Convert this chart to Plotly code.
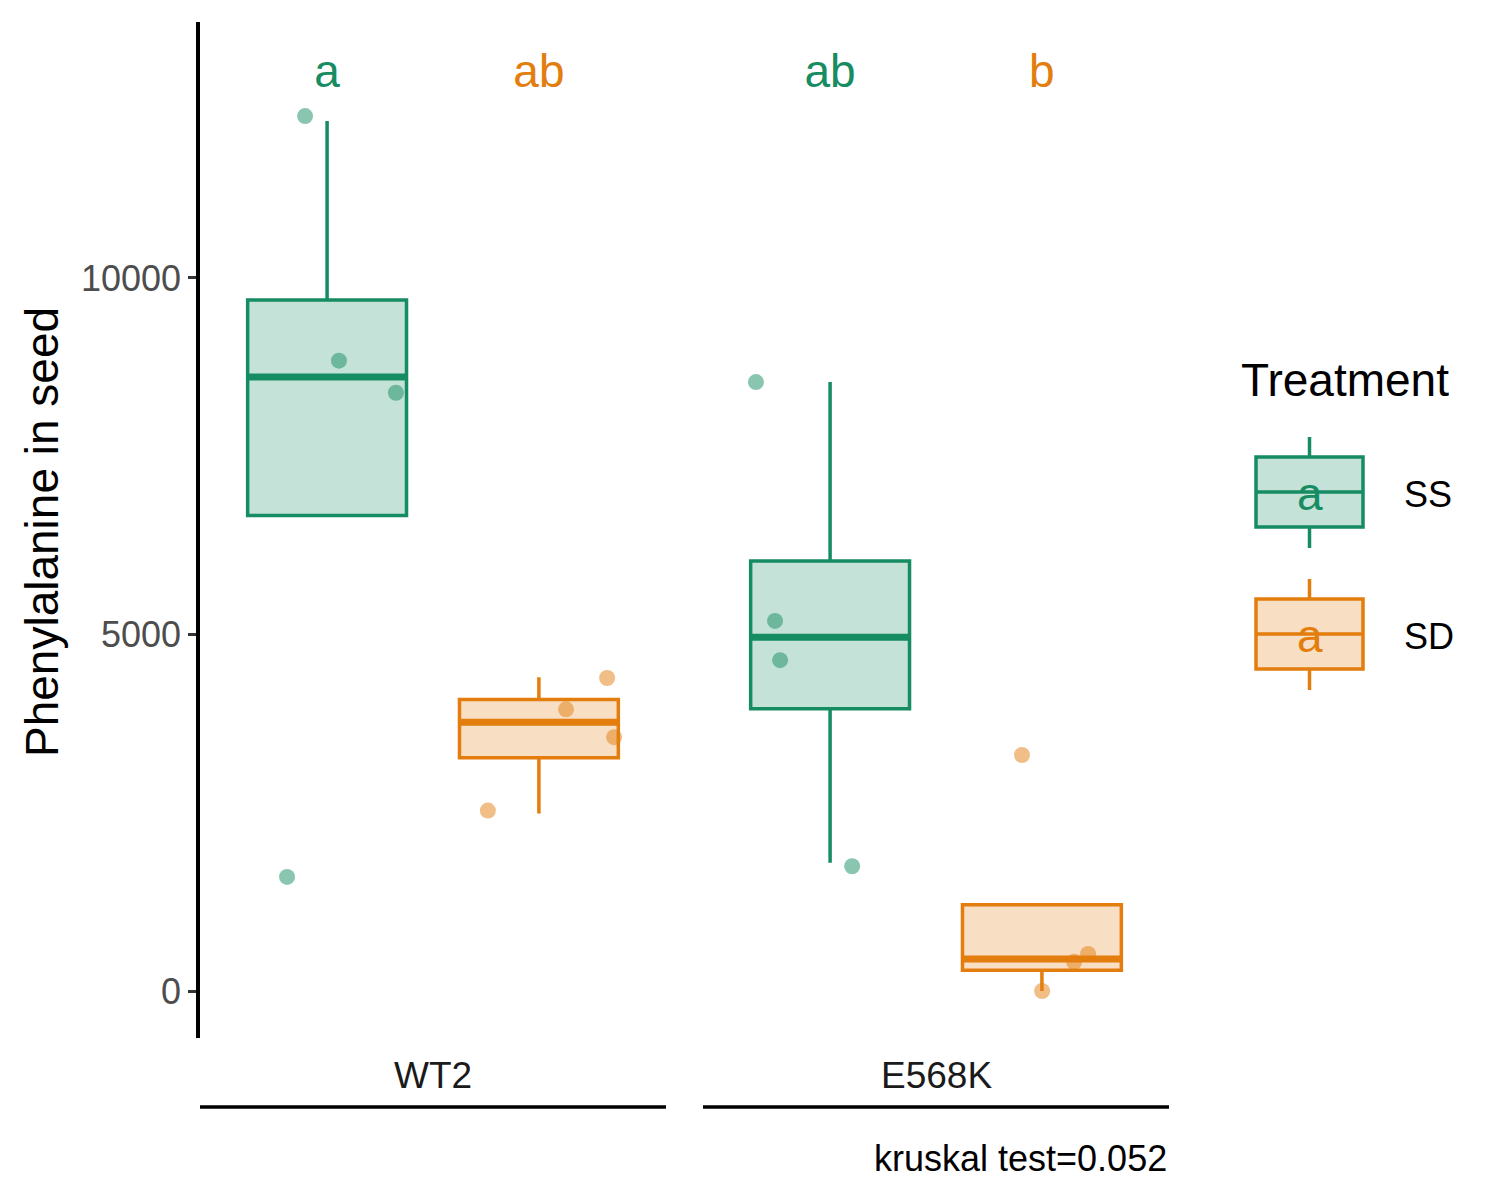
import plotly.graph_objects as go

# ---- data ----
genotypes = ["WT2", "E568K"]
treatments = ["SS", "SD"]
colors = {"SS": "#168C62", "SD": "#E27D0E"}
fills = {"SS": "rgba(22,140,98,0.25)", "SD": "rgba(226,125,14,0.25)"}
dots = {"SS": "rgba(22,140,98,0.5)", "SD": "rgba(226,125,14,0.5)"}

# box statistics per genotype, order SS, SD
q1 = {"WT2": [6670, 3270], "E568K": [3960, 290]}
med = {"WT2": [8610, 3770], "E568K": [4960, 450]}
q3 = {"WT2": [9690, 4090], "E568K": [6030, 1210]}
lower = {"WT2": [6670, 2490], "E568K": [1800, 0]}
upper = {"WT2": [12200, 4400], "E568K": [8540, 1210]}

# jittered points (x position inside facet, value)
pts_x = {
    ("WT2", "SS"): [0.896, 1.056, 1.325, 0.811],
    ("WT2", "SD"): [2.322, 2.128, 2.355, 1.759],
    ("E568K", "SS"): [0.650, 0.740, 0.764, 1.104],
    ("E568K", "SD"): [1.906, 2.218, 2.152, 2.001],
}
pts_y = {
    ("WT2", "SS"): [12270, 8840, 8390, 1600],
    ("WT2", "SD"): [4390, 3950, 3560, 2530],
    ("E568K", "SS"): [8540, 5190, 4640, 1750],
    ("E568K", "SD"): [3310, 520, 410, 0],
}

letters = {"WT2": ["a", "ab"], "E568K": ["ab", "b"]}
letter_y = 12840

FONT = "Liberation Sans, Arial, sans-serif"
W, H = 1500, 1200
OFF = 8  # page body margin


def px(x):
    return (x - OFF) / W


def py(y):
    return 1 - (y - OFF) / H


fig = go.Figure()
xaxes = ["x", "x2"]
yaxes = ["y", "y2"]

for g, xa, ya in zip(genotypes, xaxes, yaxes):
    for i, t in enumerate(treatments):
        xpos = [i + 1]
        fig.add_trace(go.Box(
            x=xpos, q1=[q1[g][i]], median=[med[g][i]], q3=[q3[g][i]],
            lowerfence=[lower[g][i]], upperfence=[upper[g][i]],
            width=0.75, whiskerwidth=0, boxpoints=False,
            fillcolor=fills[t], line=dict(color=colors[t], width=3.5),
            xaxis=xa, yaxis=ya, showlegend=False, hoverinfo="skip"))
        # thicker median line
        fig.add_trace(go.Box(
            x=xpos, q1=[med[g][i]], median=[med[g][i]], q3=[med[g][i]],
            lowerfence=[med[g][i]], upperfence=[med[g][i]],
            width=0.75, whiskerwidth=0, boxpoints=False,
            fillcolor="rgba(0,0,0,0)", line=dict(color=colors[t], width=7),
            xaxis=xa, yaxis=ya, showlegend=False, hoverinfo="skip"))
    for i, t in enumerate(treatments):
        fig.add_trace(go.Scatter(
            x=pts_x[(g, t)], y=pts_y[(g, t)], mode="markers",
            marker=dict(color=dots[t], size=16, line=dict(width=0)),
            xaxis=xa, yaxis=ya, showlegend=False, hoverinfo="skip"))
    fig.add_trace(go.Scatter(
        x=[1, 2], y=[letter_y, letter_y], mode="text", text=letters[g],
        textfont=dict(family=FONT, size=46, color=[colors[t] for t in treatments]),
        textposition="middle center",
        xaxis=xa, yaxis=ya, showlegend=False, hoverinfo="skip"))

yrange = [-659, 13590]
ydom = [py(1038), py(22)]
axis_common = dict(range=[0.4, 2.6], showticklabels=False, showgrid=False,
                   zeroline=False, showline=False, ticks="")
fig.update_layout(
    width=W, height=H,
    margin=dict(l=0, r=0, t=0, b=0),
    paper_bgcolor="white", plot_bgcolor="white",
    boxmode="overlay",
    font=dict(family=FONT, color="black"),
    xaxis=dict(domain=[px(200), px(666)], **axis_common),
    xaxis2=dict(domain=[px(703), px(1169)], **axis_common),
    yaxis=dict(domain=ydom, range=yrange, tickvals=[0, 5000, 10000],
               ticktext=["0", "5000", "10000"], ticks="outside", ticklen=8,
               tickwidth=2.5, tickcolor="#333333", ticklabelstandoff=0,
               tickfont=dict(family=FONT, size=36, color="#4D4D4D"),
               showline=True, linecolor="black", linewidth=3.5,
               showgrid=False, zeroline=False),
    yaxis2=dict(domain=ydom, range=yrange, matches="y", anchor="x2",
                showticklabels=False, showline=False, showgrid=False,
                zeroline=False, ticks=""),
)

annotations = []
shapes = []

# y-axis title
annotations.append(dict(text="Phenylalanine in seed", xref="paper", yref="paper",
                        x=px(42), y=py(532), textangle=-90, showarrow=False,
                        xanchor="center", yanchor="middle",
                        font=dict(family=FONT, size=46, color="black")))

# facet strips at the bottom
for g, xa in zip(genotypes, xaxes):
    annotations.append(dict(text=g, xref=xa + " domain", yref="paper", x=0.5, y=py(1075),
                            showarrow=False, xanchor="center", yanchor="middle",
                            font=dict(family=FONT, size=37, color="#1A1A1A")))
    shapes.append(dict(type="line", xref=xa + " domain", yref="paper", x0=0, x1=1,
                       y0=py(1107), y1=py(1107), line=dict(color="black", width=3.5)))

# caption
annotations.append(dict(text="kruskal test=0.052", xref="x2 domain", yref="paper",
                        x=1, y=py(1158), showarrow=False, xanchor="right", yanchor="middle",
                        font=dict(family=FONT, size=36, color="black")))

# legend drawn by hand
annotations.append(dict(text="Treatment", xref="paper", yref="paper", x=px(1239), y=py(380),
                        showarrow=False, xanchor="left", yanchor="middle",
                        font=dict(family=FONT, size=46, color="black")))
for i, t in enumerate(treatments):
    c = 492 + 142 * i
    shapes.append(dict(type="rect", xref="paper", yref="paper",
                       x0=px(1256), x1=px(1363), y0=py(c - 35), y1=py(c + 35),
                       fillcolor=fills[t], line=dict(color=colors[t], width=3.5)))
    shapes.append(dict(type="line", xref="paper", yref="paper",
                       x0=px(1256), x1=px(1363), y0=py(c), y1=py(c),
                       line=dict(color=colors[t], width=3.5)))
    for a, b in [(c - 55, c - 35), (c + 35, c + 56)]:
        shapes.append(dict(type="line", xref="paper", yref="paper",
                           x0=px(1309.5), x1=px(1309.5), y0=py(a), y1=py(b),
                           line=dict(color=colors[t], width=3.5)))
    annotations.append(dict(text="a", xref="paper", yref="paper", x=px(1309.5), y=py(c + 2),
                            showarrow=False, xanchor="center", yanchor="middle",
                            font=dict(family=FONT, size=46, color=colors[t])))
    annotations.append(dict(text=t, xref="paper", yref="paper", x=px(1402), y=py(c + 2),
                            showarrow=False, xanchor="left", yanchor="middle",
                            font=dict(family=FONT, size=36, color="black")))

fig.update_layout(annotations=annotations, shapes=shapes)
fig.write_html("out.html")
